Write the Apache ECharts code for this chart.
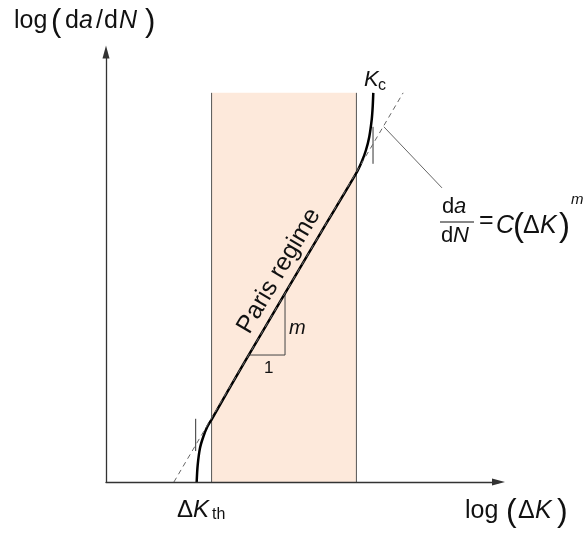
<!DOCTYPE html>
<html>
<head>
<meta charset="utf-8">
<script src="https://cdn.jsdelivr.net/npm/echarts@6/dist/echarts.min.js"></script>
<style>
  html, body { margin: 0; padding: 0; background: #fff; }
  #chart { width: 583px; height: 534px; }
</style>
</head>
<body>
<div id="chart"></div>
<script>
// Fatigue crack growth rate vs. stress intensity range (schematic, log-log units)
const parisBounds = [2.69, 6.38];          // log(ΔK) limits of the Paris regime
const parisTop = 9.05;                     // upper edge of the shaded region
const powerLawLine = [[1.73, 0], [7.57, 9.05]];   // da/dN = C(ΔK)^m
const growthCurve = [
  [2.31, 0], [2.336, 0.395], [2.395, 0.791], [2.479, 1.053], [2.581, 1.286], [2.70, 1.47],
  [3.5, 2.741], [4.5, 4.292], [5.5, 5.842], [6.369, 7.17],
  [6.515, 7.449], [6.624, 7.721], [6.708, 8.030], [6.769, 8.419], [6.795, 8.728], [6.81, 9.05]
];
const thresholdTick = [[2.285, 0.72], [2.285, 1.47]];
const toughnessTick = [[6.803, 7.40], [6.803, 8.26]];
const slopeTriangle = [[3.637, 2.953], [4.561, 2.953], [4.561, 4.386]];
const leaderLine = [[7.08, 8.26], [8.56, 6.84]];

const FONT = '"Liberation Sans", Arial, Helvetica, sans-serif';

function t(str, x, y, size, italic, extra) {
  return Object.assign({
    type: 'text', x: x, y: y, z: 50,
    style: {
      text: str,
      font: (italic ? 'italic ' : '') + size + 'px ' + FONT,
      fill: '#111',
      align: 'left',
      verticalAlign: 'middle'
    }
  }, extra || {});
}

const rad = Math.PI / 180;

const labels = [
  // y-axis title: log(da/dN)
  t('log', 14, 21, 25), t('(', 51, 22, 31), t('d', 65, 21, 25), t('a', 79, 21, 25, true),
  t('/', 96, 21, 25), t('d', 104, 21, 25), t('N', 119, 21, 25, true), t(')', 145, 22, 31),
  // x-axis title: log(ΔK)
  t('log', 465, 511, 25), t('(', 506, 512, 32), t('Δ', 518, 511, 25), t('K', 535, 511, 25, true),
  t(')', 557, 512, 32),
  // threshold ΔK_th
  t('Δ', 177, 510, 24), t('K', 193, 510, 24, true), t('th', 212, 515, 16),
  // fracture toughness K_c
  t('K', 364, 80, 22, true), t('c', 378, 86, 16),
  // Paris regime
  {
    type: 'text', x: 279, y: 271, rotation: 59.5 * rad, z: 50,
    style: { text: 'Paris regime', font: '25px ' + FONT, fill: '#111', align: 'center', verticalAlign: 'middle' }
  },
  t('m', 289, 328, 20, true), t('1', 264, 368, 17),
  // da/dN = C(ΔK)^m
  t('d', 442, 207, 22), t('a', 454, 207, 22, true),
  { type: 'line', z: 50, shape: { x1: 440, y1: 222, x2: 474, y2: 222 }, style: { stroke: '#111', lineWidth: 1.2 } },
  t('d', 441, 236, 22), t('N', 453, 236, 22, true),
  t('=', 479, 221, 25), t('C', 496, 226, 25, true), t('(', 513, 227, 33),
  t('Δ', 523, 226, 25), t('K', 540, 226, 25, true), t(')', 559, 227, 33), t('m', 571, 200, 15, true)
];

function seg(data, color, width, extra) {
  return Object.assign({
    type: 'line', data: data, showSymbol: false, silent: true, z: 2,
    lineStyle: { color: color, width: width }
  }, extra || {});
}

const axisCommon = {
  type: 'value', min: 0, max: 10, z: 5,
  axisLine: { show: true, symbol: ['none', 'triangle'], symbolSize: [7, 13],
              lineStyle: { color: '#333', width: 1.3 } },
  axisTick: { show: false }, axisLabel: { show: false }, splitLine: { show: false }
};

const chart = echarts.init(document.getElementById('chart'), null, { renderer: 'canvas' });

chart.setOption({
  animation: false,
  backgroundColor: '#fff',
  grid: { left: 106, top: 52, width: 392.5, height: 430 },
  xAxis: Object.assign({}, axisCommon),
  yAxis: Object.assign({}, axisCommon),
  series: [
    seg([[parisBounds[0], 0], [parisBounds[0], parisTop]], '#555', 1, {
      z: 1,
      markArea: {
        silent: true,
        itemStyle: { color: '#fde9db' },
        data: [[{ coord: [parisBounds[0], 0] }, { coord: [parisBounds[1], parisTop] }]]
      }
    }),
    seg([[parisBounds[1], 0], [parisBounds[1], parisTop]], '#555', 1),
    seg(thresholdTick, '#333', 1),
    seg(toughnessTick, '#333', 1),
    seg(slopeTriangle, '#444', 1),
    seg(leaderLine, '#666', 1),
    seg(growthCurve, '#000', 2.5, { smooth: 0.3, z: 3 }),
    seg(powerLawLine, '#666', 1, { z: 4, lineStyle: { color: '#666', width: 1, type: [5, 4] } })
  ],
  graphic: labels
});
</script>
</body>
</html>
